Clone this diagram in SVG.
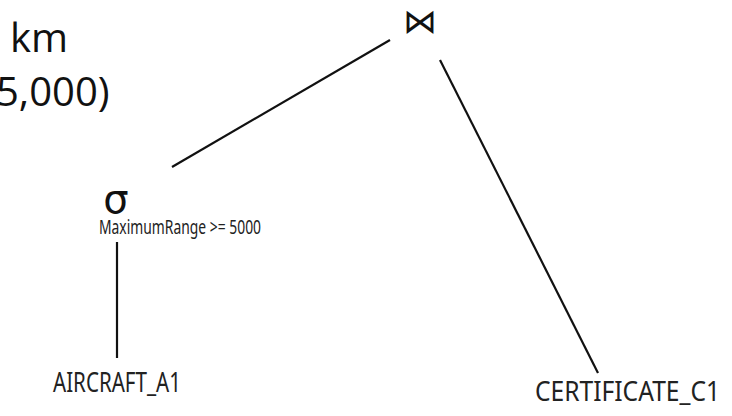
<svg xmlns="http://www.w3.org/2000/svg" width="732" height="416" viewBox="0 0 732 416">
<style>
.big{font-family:"Open Sans","Liberation Sans",sans-serif;font-size:40px;fill:#111}
.lbl{font-family:"Noto Sans","Liberation Sans",sans-serif;fill:#222}
.sym{font-family:"DejaVu Sans","Noto Sans",sans-serif;fill:#111}
.edge{stroke:#111;stroke-width:2.2;fill:none;stroke-linecap:butt}
</style>
<rect width="732" height="416" fill="#fff"/>
<g id="caption">
<text class="big" x="10" y="52">km</text>
<text class="big" x="-4" y="106">5,000)</text>
</g>
<g id="connectors">
<line class="edge" x1="172" y1="167" x2="390" y2="40"/>
<line class="edge" x1="440" y1="60" x2="598" y2="373"/>
<line class="edge" x1="117" y1="242" x2="117" y2="358"/>
</g>
<g id="join">
<text class="sym" x="420" y="33" font-size="34" font-weight="300" text-anchor="middle">⋈</text>
</g>
<g id="select">
<text class="sym" x="116" y="213" font-size="40" text-anchor="middle">σ</text>
<text class="lbl" x="99" y="234" font-size="20" textLength="162" lengthAdjust="spacingAndGlyphs">MaximumRange &gt;= 5000</text>
</g>
<g id="aircraft">
<text class="lbl" x="53" y="392" font-size="28" textLength="128" lengthAdjust="spacingAndGlyphs">AIRCRAFT_A1</text>
</g>
<g id="certificate">
<text class="lbl" x="535" y="401" font-size="28" textLength="185" lengthAdjust="spacingAndGlyphs">CERTIFICATE_C1</text>
</g>
</svg>
